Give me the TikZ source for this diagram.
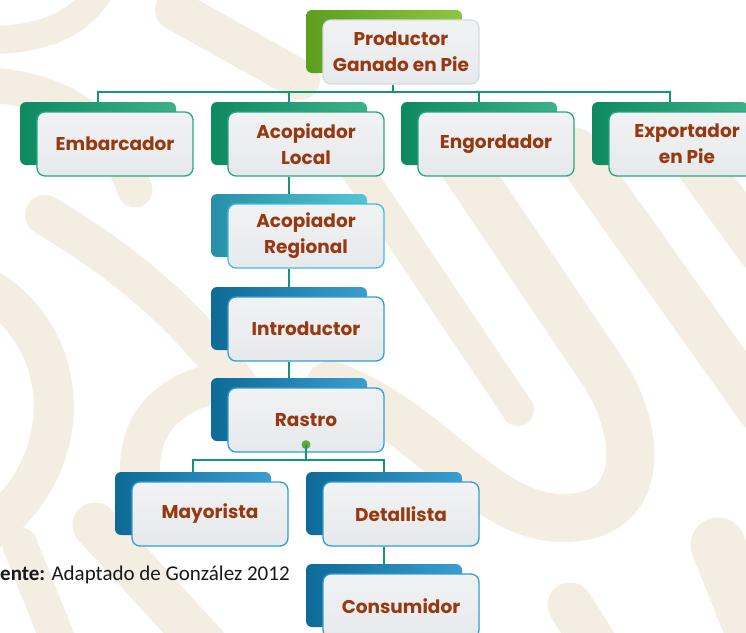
\documentclass[tikz,border=0pt]{standalone}
\usepackage{fontspec}
\newfontfamily\boxfont{Poppins}
\newfontfamily\footfont{Carlito}
\definecolor{wmc}{HTML}{F4EDE2}
\definecolor{txt}{HTML}{983810}
\definecolor{conn}{HTML}{13957A}
\definecolor{dotc}{HTML}{5DAA3A}
\definecolor{pL}{HTML}{5E9E1E}\definecolor{pR}{HTML}{8CC642}
\definecolor{fT}{HTML}{F1F2F3}\definecolor{fBt}{HTML}{E6E9EC}
\definecolor{gL}{HTML}{0E8A5F}\definecolor{gR}{HTML}{3DB08A}
\definecolor{cL}{HTML}{2790A8}\definecolor{cR}{HTML}{52C5D9}
\definecolor{bL}{HTML}{0E6A96}\definecolor{bR}{HTML}{3A9DD0}
\definecolor{bdG}{HTML}{25A882}
\definecolor{bdC}{HTML}{45BCD6}
\definecolor{bdB}{HTML}{2E9FD4}
\definecolor{bdP}{HTML}{D8DCDD}
\tikzset{
  wm/.style={draw=wmc, line cap=round, line join=round},
  tabbox/.style={rounded corners=6pt, minimum width=156pt, minimum height=63pt, inner sep=0pt},
  tprod/.style={tabbox, left color=pL, right color=pR},
  tgreen/.style={tabbox, left color=gL, right color=gR},
  tcyan/.style={tabbox, left color=cL, right color=cR},
  tblue/.style={tabbox, left color=bL, right color=bR},
  frontbox/.style={rounded corners=8pt, minimum width=156pt, minimum height=64pt, inner sep=0pt,
     line width=1.3pt, top color=fT, bottom color=fBt, align=center,
     font=\boxfont\bfseries\fontsize{18.5}{26}\selectfont, text=txt},
  fP/.style={draw=bdP}, fG/.style={draw=bdG}, fC/.style={draw=bdC}, fB/.style={draw=bdB},
  connline/.style={draw=conn, line width=2pt},
}
\newcommand\orgbox[6]{%
  \node[#4] (#1T) at ({#2+78},{#3+31.5}) {};
  \node[frontbox,#5] (#1) at ({#2+95},{#3+42}) {#6};
}
\begin{document}
\begin{tikzpicture}[x=1pt,y=-1pt]
\clip (0,0) rectangle (746,632);
\fill[white] (0,0) rectangle (746,632);
% watermark
\draw[wm, line width=32pt] (330,130) -- (518,410);
\draw[wm, line width=48pt] (330,385) .. controls (430,420) and (480,515) .. (560,518) .. controls (650,520) and (640,430) .. (605,375) -- (460,160);
\draw[wm, line width=45pt] (575,150) -- (760,410);
\draw[wm, line width=45pt] (680,140) -- (760,250);
\draw[wm, line width=55pt] (718,545) -- (760,650);
\draw[wm, line width=45pt] (570,605) -- (605,660);
\draw[wm, line width=28pt] (-10,40) .. controls (40,40) and (80,25) .. (100,-10);
\draw[wm, line width=40pt] (175,10) -- (300,80);
\draw[wm, line width=35pt] (-10,85) .. controls (60,90) and (110,120) .. (135,190);
\draw[wm, line width=40pt] (45,215) .. controls (120,260) and (200,320) .. (260,420);
\draw[wm, line width=40pt] (-10,290) .. controls (70,340) and (80,460) .. (-10,530);
\draw[wm, line width=35pt] (20,545) -- (60,645);
\draw[wm, line width=45pt] (95,525) -- (205,645);
\draw[wm, line width=40pt] (140,470) .. controls (140,420) and (170,390) .. (230,380);
% boxes
\orgbox{prod}{306}{10}{tprod}{fP}{Productor\\Ganado en Pie}
\orgbox{emb}{20}{102}{tgreen}{fG}{Embarcador}
\orgbox{acl}{211}{102}{tgreen}{fG}{Acopiador\\Local}
\orgbox{eng}{401}{102}{tgreen}{fG}{Engordador}
\orgbox{exp}{592}{102}{tgreen}{fG}{Exportador\\en Pie}
\orgbox{acr}{211}{194}{tcyan}{fC}{Acopiador\\Regional}
\orgbox{intro}{211}{287}{tblue}{fB}{Introductor}
\orgbox{rastro}{211}{378}{tblue}{fB}{Rastro}
\orgbox{may}{115}{472}{tblue}{fB}{Mayorista}
\orgbox{det}{306}{472}{tblue}{fB}{Detallista}
\orgbox{cons}{306}{564}{tblue}{fB}{Consumidor}
% connectors
\coordinate (bus) at (393,92);
\draw[connline] ([xshift=-8pt]prod.south) -- ([xshift=-8pt]prod.south |- bus);
\draw[connline] (embT.north) -- (embT.north |- bus) -- (expT.north |- bus) -- (expT.north);
\draw[connline] (aclT.north) -- (aclT.north |- bus);
\draw[connline] (engT.north) -- (engT.north |- bus);
\draw[connline] (aclT.south |- acl.south) -- (acrT.north);
\draw[connline] (acrT.south |- acr.south) -- (introT.north);
\draw[connline] (introT.south |- intro.south) -- (rastroT.north);
\coordinate (rbus) at (306,460);
\node[circle, fill=dotc, inner sep=0pt, minimum size=9pt] (rdot) at ([yshift=8pt]rastro.south) {};
\draw[connline] (rdot.center) -- (rbus);
\draw[connline] (mayT.north) -- (mayT.north |- rbus) -- (detT.north |- rbus) -- (detT.north);
\draw[connline] (detT.south |- det.south) -- (consT.north);
% footer
\node[anchor=base west, inner sep=0pt, font=\footfont\fontsize{21}{25}\selectfont, text=black!90] (src) at (0,580) {\textbf{ente:} Adaptado de González 2012};
\end{tikzpicture}
\end{document}
